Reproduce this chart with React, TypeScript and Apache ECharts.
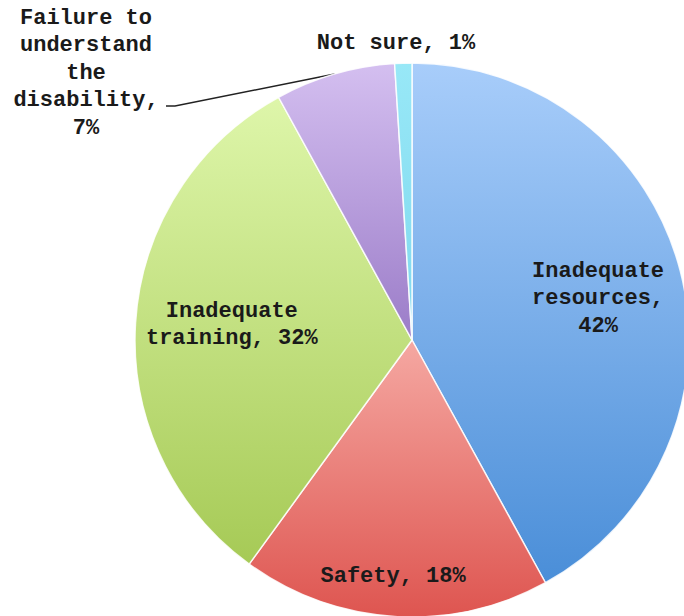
import React, { useEffect, useRef } from "react";
import * as echarts from "echarts";

const categories = [
  "Inadequate resources",
  "Safety",
  "Inadequate training",
  "Failure to understand the disability",
  "Not sure",
];
const values = [42, 18, 32, 7, 1];
const labelPrefixes = [
  "Inadequate\nresources,\n",
  "Safety, ",
  "Inadequate\ntraining, ",
  "Failure to\nunderstand\nthe\ndisability,\n",
  "Not sure, ",
];
const topColors = ["#a8cdfa", "#f5a8a2", "#def6aa", "#d4bff0", "#98e8f7"];
const bottomColors = ["#4a8ed8", "#de5550", "#a6ca56", "#9b7cc8", "#7fd8ee"];

export default function App() {
  const ref = useRef<HTMLDivElement>(null);
  useEffect(() => {
    if (!ref.current) return;
    const chart = echarts.init(ref.current, null, { renderer: "svg" });
    const labelOffsets: Record<number, number[]> = {
      0: [49, -6],
      1: [-10, 95],
      2: [-39, -6],
    };
    const data = categories.map((name, i) => {
      const inside = i < 3;
      return {
        name,
        value: values[i],
        itemStyle: {
          color: new echarts.graphic.LinearGradient(0, 0, 0, 1, [
            { offset: 0, color: topColors[i] },
            { offset: 1, color: bottomColors[i] },
          ]),
        },
        label: inside
          ? { position: "inside", offset: labelOffsets[i] }
          : { position: "outside" },
        labelLine: { show: i === 3 },
      };
    });
    chart.setOption({
      animation: false,
      backgroundColor: "#ffffff",
      series: [
        {
          type: "pie",
          center: [412, 340],
          radius: 277,
          startAngle: 90,
          clockwise: true,
          avoidLabelOverlap: false,
          itemStyle: { borderColor: "rgba(255,255,255,0.85)", borderWidth: 1.5 },
          label: {
            show: true,
            color: "#1a1a1a",
            fontFamily: "Liberation Mono",
            fontWeight: "bold",
            fontSize: 22,
            lineHeight: 27.5,
            align: "center",
            formatter: (p: any) => labelPrefixes[p.dataIndex] + p.value + "%",
          },
          labelLine: {
            show: true,
            lineStyle: { color: "#222", width: 1.5 },
            smooth: false,
          },
          labelLayout: (params: any) => {
            if (params.dataIndex === 3) {
              const p0 = params.labelLinePoints ? params.labelLinePoints[0] : [333, 75];
              const cx = 86;
              const cy = 73;
              const lineY = 106;
              return {
                x: cx,
                y: cy,
                align: "center",
                verticalAlign: "middle",
                labelLinePoints: [p0, [175, lineY], [166, lineY]],
              };
            }
            if (params.dataIndex === 4) {
              return { x: 396, y: 43, align: "center", verticalAlign: "middle" };
            }
            return {};
          },
          data,
        },
      ],
    });
    return () => chart.dispose();
  }, []);
  return (
    <div
      ref={ref}
      style={{ position: "fixed", left: 0, top: 0, width: 684, height: 616 }}
    />
  );
}
